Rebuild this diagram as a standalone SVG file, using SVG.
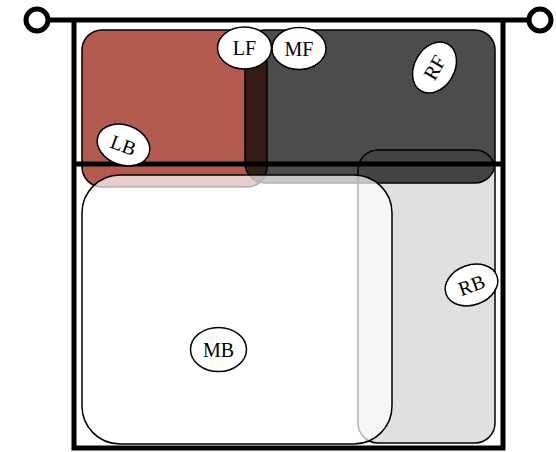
<svg xmlns="http://www.w3.org/2000/svg" width="556" height="452" viewBox="0 0 556 452">
<style>
.frame{fill:none;stroke:#000;stroke-width:5}
.zone{stroke:#000;stroke-width:1.5}
.lbl ellipse{fill:#fff;stroke:#000;stroke-width:1.5}
.lbl text{font-family:"Liberation Serif",serif;font-size:20px;fill:#000;text-anchor:middle;dominant-baseline:central}
</style>
<rect width="556" height="452" fill="#fff"/>
<g id="zones">
<rect id="zone-LF" class="zone" x="82" y="30" width="185" height="157" rx="20" fill="#b35b50"/>
<rect id="zone-RB" class="zone" x="358" y="150" width="137" height="293" rx="20" fill="#e0e0e0"/>
<rect id="zone-RF" class="zone" x="245" y="30" width="250" height="153" rx="20" fill="#000" fill-opacity="0.7"/>
<rect id="zone-MB" class="zone" x="82" y="175" width="310" height="269" rx="38" fill="#fff" fill-opacity="0.7"/>
</g>
<g id="connectors">
<line class="frame" x1="48" y1="20" x2="529" y2="20"/>
<polyline class="frame" points="74,20 74,448 503,448 503,20"/>
<line class="frame" x1="74" y1="164" x2="503" y2="164"/>
<circle cx="37" cy="20" r="11" fill="#fff" stroke="#000" stroke-width="5"/>
<circle cx="540" cy="20" r="11" fill="#fff" stroke="#000" stroke-width="5"/>
</g>
<g id="LF" class="lbl"><ellipse cx="244.5" cy="48" rx="27" ry="21"/><text x="244.5" y="48">LF</text></g>
<g id="MF" class="lbl"><ellipse cx="299" cy="48.5" rx="27" ry="21"/><text x="299" y="48.5">MF</text></g>
<g id="RF" class="lbl" transform="translate(434.5 67.5) rotate(-60)"><ellipse cx="0" cy="0" rx="27" ry="20"/><text x="0" y="0">RF</text></g>
<g id="LB" class="lbl" transform="translate(123.5 145) rotate(20)"><ellipse cx="0" cy="0" rx="27" ry="20"/><text x="0" y="0">LB</text></g>
<g id="RB" class="lbl" transform="translate(471.5 285) rotate(-20)"><ellipse cx="0" cy="0" rx="27" ry="20"/><text x="0" y="0">RB</text></g>
<g id="MB" class="lbl"><ellipse cx="218.5" cy="349.5" rx="28" ry="22"/><text x="218.5" y="349.5">MB</text></g>
</svg>
